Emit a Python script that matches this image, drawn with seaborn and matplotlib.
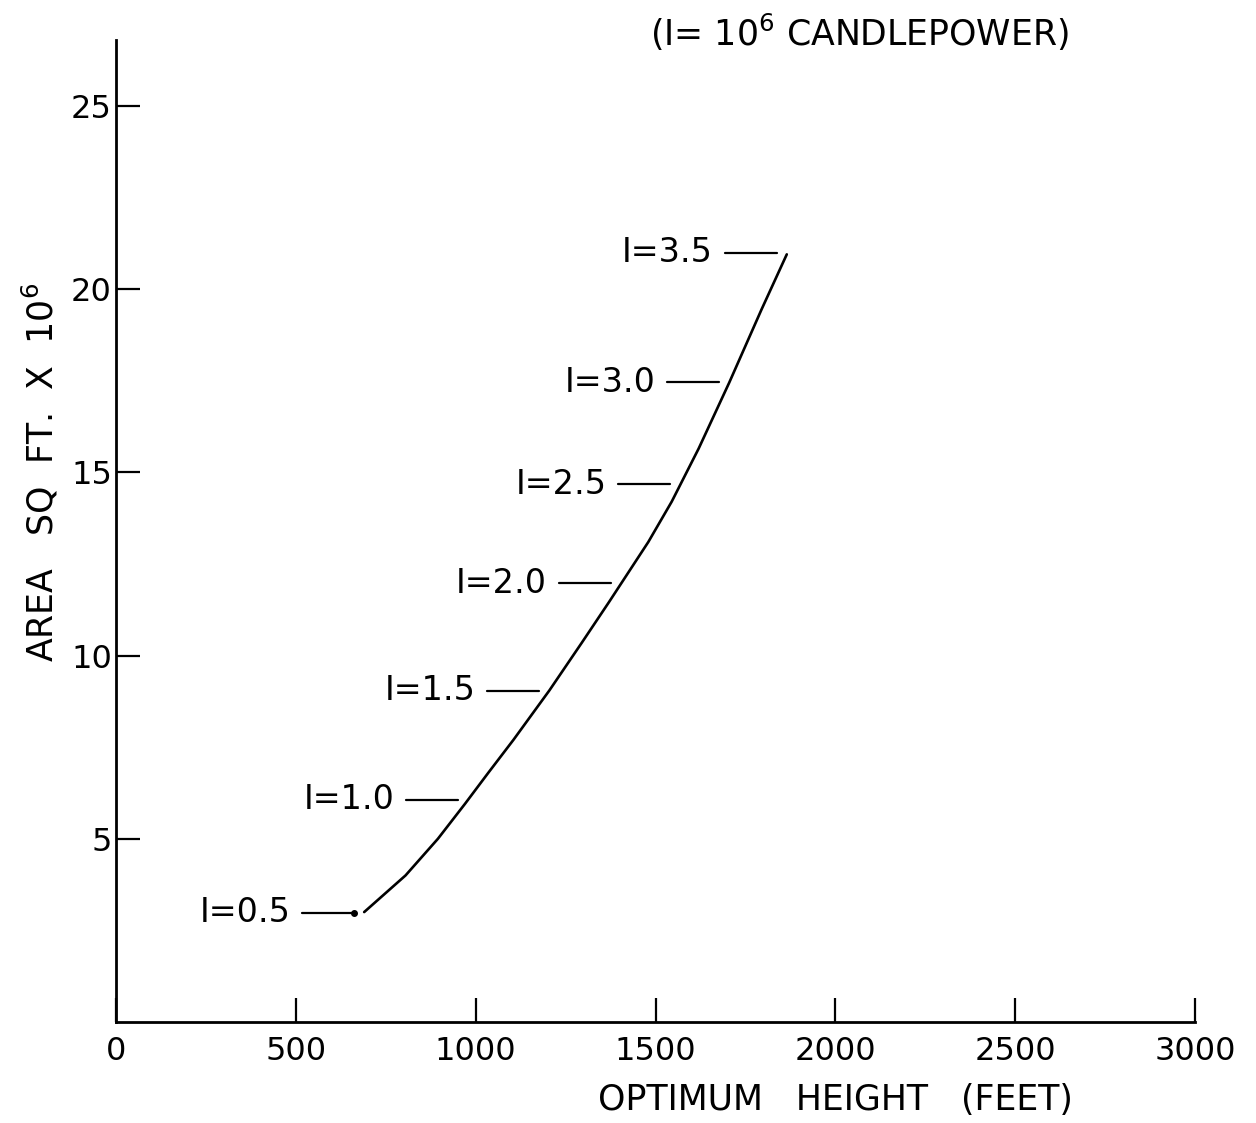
import numpy as np
import matplotlib
matplotlib.use('Agg')
import matplotlib.pyplot as plt
import seaborn as sns

# curve: optimum height (ft) vs area (sq ft x 10^6)
heights = [690, 805, 895, 970, 1035, 1105, 1205, 1295, 1370, 1480,
           1545, 1620, 1705, 1795, 1865]
areas = [3.0, 4.0, 5.0, 5.95, 6.8, 7.7, 9.05, 10.35, 11.45, 13.1,
         14.2, 15.65, 17.45, 19.45, 20.95]

# intensity labels (10^6 candlepower) and the area where each one sits
intensities = [0.5, 1.0, 1.5, 2.0, 2.5, 3.0, 3.5]
label_areas = [2.98, 6.07, 9.04, 11.97, 14.67, 17.46, 21.0]

x_ticks = [0, 500, 1000, 1500, 2000, 2500, 3000]
y_ticks = [5, 10, 15, 20, 25]

sns.set_theme(style='white')
plt.rcParams['font.family'] = ['DejaVu Sans']

W, H = 1256, 1123
fig = plt.figure(figsize=(W / 100, H / 100), dpi=100)
ax = fig.add_axes([116 / W, 1 - 1022 / H, (1195 - 116) / W, (1022 - 40) / H])

sns.lineplot(x=heights, y=areas, ax=ax, color='black', linewidth=1.9)

# leader lines + labels
ft_per_px = 3000 / (1195 - 116)
gap = 10 * ft_per_px
seg = 52 * ft_per_px
txt_gap = 12 * ft_per_px
for inten, a in zip(intensities, label_areas):
    hx = np.interp(a, areas, heights)
    x1 = hx - gap
    x0 = x1 - seg
    ax.plot([x0, x1], [a, a], color='black', lw=1.6)
    if inten == intensities[0]:
        ax.plot([x1], [a], 'o', color='black', ms=4)
    ax.text(x0 - txt_gap, a, 'I=%.1f' % inten, ha='right', va='center',
            fontsize=24, color='black')

ax.set_xlim(0, 3000)
ax.set_ylim(0, 26.8)
ax.set_xticks(x_ticks)
ax.set_yticks(y_ticks)
ax.set_xticklabels([str(t) for t in x_ticks])
ax.set_yticklabels([str(t) for t in y_ticks])
ax.tick_params(axis='x', bottom=True, direction='in', length=17, width=1.6,
               labelsize=23, pad=10, colors='black')
ax.tick_params(axis='y', left=True, direction='in', length=17, width=1.6,
               labelsize=23, pad=3, colors='black')
for side in ['top', 'right']:
    ax.spines[side].set_visible(False)
for side in ['left', 'bottom']:
    ax.spines[side].set_color('black')
    ax.spines[side].set_linewidth(2.0)
ax.set_facecolor('white')
ax.grid(False)

fig.text(40 / W, 1 - 472 / H, r'AREA   SQ  FT.  X  10$^6$', rotation=90,
         ha='center', va='center', fontsize=25, color='black')
fig.text(835 / W, 1 - 1100 / H, 'OPTIMUM   HEIGHT   (FEET)',
         ha='center', va='center', fontsize=25, color='black')
fig.text(859 / W, 1 - 32 / H, r'(I= 10$^6$ CANDLEPOWER)',
         ha='center', va='center', fontsize=25, color='black')

fig.savefig('out.png', dpi=100, facecolor='white')
